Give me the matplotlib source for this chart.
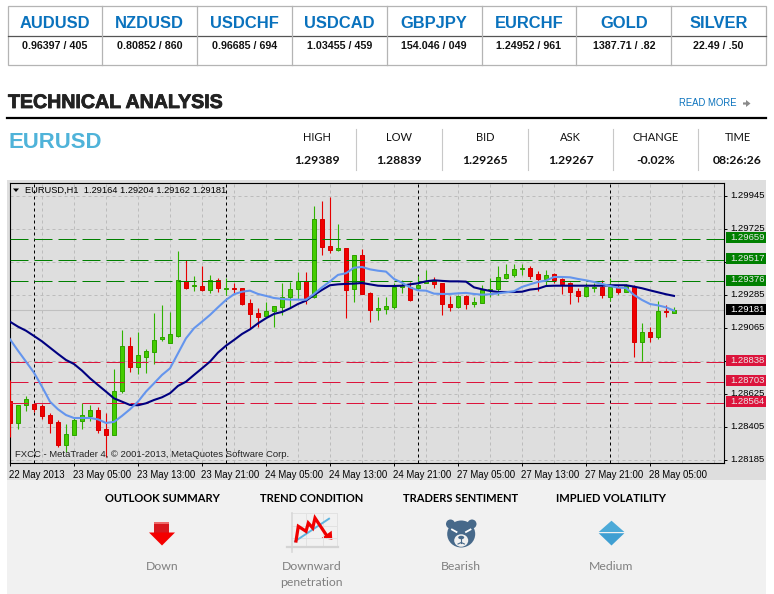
import matplotlib
matplotlib.use('Agg')
import matplotlib.pyplot as plt
import matplotlib.patheffects as pe
from matplotlib.patches import Rectangle, Polygon, Ellipse, Circle
from matplotlib.transforms import ScaledTranslation

# quote table at the top
pairs = ['AUDUSD', 'NZDUSD', 'USDCHF', 'USDCAD', 'GBPJPY', 'EURCHF', 'GOLD', 'SILVER']
quotes = ['0.96397 / 405', '0.80852 / 860', '0.96685 / 694', '1.03455 / 459',
          '154.046 / 049', '1.24952 / 961', '1387.71 / .82', '22.49 / .50']

# EURUSD summary row
stat_names = ['HIGH', 'LOW', 'BID', 'ASK', 'CHANGE', 'TIME']
stat_values = ['1.29389', '1.28839', '1.29265', '1.29267', '-0.02%', '08:26:26']

# hourly candles
opens = [1.28577, 1.28428, 1.28548, 1.28554, 1.28541, 1.28481, 1.28434, 1.28285, 1.28352, 1.28445,
         1.28479, 1.28514, 1.28388, 1.28352, 1.28645, 1.28941, 1.28805, 1.28872, 1.28905, 1.28988,
         1.28965, 1.29010, 1.29374, 1.29341, 1.29341, 1.29319, 1.29381, 1.29326, 1.29328, 1.29328,
         1.29228, 1.29161, 1.29141, 1.29174, 1.29205, 1.29268, 1.29321, 1.29374, 1.29268, 1.29788,
         1.29608, 1.29585, 1.29594, 1.29321, 1.29548, 1.29294, 1.29185, 1.29192, 1.29205, 1.29334,
         1.29334, 1.29332, 1.29361, 1.29374, 1.29361, 1.29221, 1.29205, 1.29274, 1.29221, 1.29232,
         1.29314, 1.29321, 1.29397, 1.29419, 1.29454, 1.29461, 1.29421, 1.29390, 1.29421, 1.29388,
         1.29361, 1.29308, 1.29279, 1.29332, 1.29334, 1.29272, 1.29334, 1.29305, 1.29334, 1.28972,
         1.29034, 1.29005, 1.29174, 1.29164]
highs = [1.28717, 1.28550, 1.28610, 1.28560, 1.28557, 1.28494, 1.28450, 1.28423, 1.28461, 1.28565,
         1.28550, 1.28534, 1.28494, 1.28788, 1.29050, 1.29005, 1.29034, 1.28921, 1.29161, 1.29214,
         1.29168, 1.29577, 1.29517, 1.29408, 1.29477, 1.29417, 1.29394, 1.29394, 1.29361, 1.29328,
         1.29254, 1.29194, 1.29234, 1.29208, 1.29363, 1.29372, 1.29434, 1.29434, 1.29877, 1.29908,
         1.29934, 1.29757, 1.29594, 1.29548, 1.29590, 1.29301, 1.29268, 1.29268, 1.29361, 1.29383,
         1.29368, 1.29410, 1.29450, 1.29401, 1.29361, 1.29277, 1.29283, 1.29283, 1.29268, 1.29350,
         1.29394, 1.29477, 1.29490, 1.29490, 1.29490, 1.29477, 1.29443, 1.29450, 1.29428, 1.29394,
         1.29368, 1.29328, 1.29361, 1.29365, 1.29383, 1.29394, 1.29350, 1.29354, 1.29350, 1.29094,
         1.29072, 1.29241, 1.29217, 1.29204]
lows = [1.28334, 1.28388, 1.28512, 1.28505, 1.28459, 1.28365, 1.28272, 1.28239, 1.28352, 1.28392,
        1.28445, 1.28365, 1.28205, 1.28352, 1.28628, 1.28772, 1.28757, 1.28765, 1.28823, 1.28974,
        1.28965, 1.29005, 1.29325, 1.29312, 1.29312, 1.29299, 1.29305, 1.29283, 1.29299, 1.29217,
        1.29061, 1.29072, 1.29128, 1.29072, 1.29152, 1.29194, 1.29254, 1.29223, 1.29261, 1.29550,
        1.29565, 1.29577, 1.29132, 1.29239, 1.29292, 1.29105, 1.29117, 1.29157, 1.29190, 1.29299,
        1.29245, 1.29317, 1.29361, 1.29328, 1.29150, 1.29177, 1.29194, 1.29190, 1.29205, 1.29228,
        1.29272, 1.29283, 1.29388, 1.29405, 1.29417, 1.29390, 1.29312, 1.29343, 1.29365, 1.29290,
        1.29223, 1.29239, 1.29268, 1.29305, 1.29265, 1.29245, 1.29290, 1.29305, 1.28872, 1.28843,
        1.28970, 1.28992, 1.29139, 1.29162]
closes = [1.28428, 1.28550, 1.28588, 1.28525, 1.28479, 1.28432, 1.28285, 1.28354, 1.28448, 1.28481,
          1.28514, 1.28385, 1.28352, 1.28641, 1.28941, 1.28805, 1.28881, 1.28908, 1.28981, 1.29001,
          1.29021, 1.29381, 1.29332, 1.29348, 1.29319, 1.29381, 1.29332, 1.29328, 1.29326, 1.29223,
          1.29159, 1.29137, 1.29174, 1.29208, 1.29268, 1.29321, 1.29374, 1.29254, 1.29788, 1.29605,
          1.29585, 1.29594, 1.29319, 1.29548, 1.29292, 1.29185, 1.29194, 1.29208, 1.29334, 1.29348,
          1.29252, 1.29352, 1.29374, 1.29359, 1.29225, 1.29205, 1.29274, 1.29221, 1.29234, 1.29314,
          1.29321, 1.29401, 1.29421, 1.29454, 1.29461, 1.29408, 1.29390, 1.29414, 1.29381, 1.29359,
          1.29305, 1.29279, 1.29334, 1.29339, 1.29283, 1.29334, 1.29305, 1.29341, 1.28972, 1.29034,
          1.29005, 1.29174, 1.29168, 1.29181]

# moving averages
ma_slow = [1.29105, 1.29072, 1.29045, 1.29010, 1.28974, 1.28932, 1.28890, 1.28850, 1.28823, 1.28779,
           1.28728, 1.28683, 1.28639, 1.28594, 1.28572, 1.28550, 1.28548, 1.28561, 1.28583, 1.28601,
           1.28628, 1.28677, 1.28705, 1.28750, 1.28794, 1.28839, 1.28899, 1.28945, 1.28983, 1.29023,
           1.29054, 1.29094, 1.29128, 1.29157, 1.29170, 1.29194, 1.29223, 1.29245, 1.29283, 1.29317,
           1.29348, 1.29354, 1.29357, 1.29359, 1.29363, 1.29354, 1.29345, 1.29343, 1.29343, 1.29345,
           1.29354, 1.29361, 1.29374, 1.29381, 1.29377, 1.29374, 1.29374, 1.29372, 1.29334, 1.29321,
           1.29310, 1.29303, 1.29303, 1.29303, 1.29305, 1.29319, 1.29325, 1.29343, 1.29345, 1.29345,
           1.29345, 1.29345, 1.29345, 1.29345, 1.29345, 1.29348, 1.29348, 1.29348, 1.29339, 1.29328,
           1.29314, 1.29301, 1.29288, 1.29277]
ma_fast = [1.28988, 1.28912, 1.28839, 1.28765, 1.28672, 1.28572, 1.28521, 1.28483, 1.28463, 1.28463,
           1.28463, 1.28454, 1.28430, 1.28437, 1.28477, 1.28521, 1.28572, 1.28639, 1.28694, 1.28750,
           1.28794, 1.28894, 1.28994, 1.29061, 1.29105, 1.29150, 1.29201, 1.29250, 1.29288, 1.29305,
           1.29312, 1.29290, 1.29277, 1.29263, 1.29257, 1.29252, 1.29252, 1.29252, 1.29290, 1.29334,
           1.29374, 1.29417, 1.29428, 1.29465, 1.29470, 1.29454, 1.29445, 1.29439, 1.29390, 1.29365,
           1.29334, 1.29314, 1.29312, 1.29292, 1.29290, 1.29290, 1.29294, 1.29297, 1.29290, 1.29285,
           1.29288, 1.29294, 1.29301, 1.29308, 1.29337, 1.29354, 1.29370, 1.29379, 1.29403, 1.29403,
           1.29401, 1.29390, 1.29381, 1.29370, 1.29357, 1.29343, 1.29332, 1.29330, 1.29283, 1.29250,
           1.29223, 1.29214, 1.29201, 1.29179]

# pivot levels and price axis labels
green_levels = [1.29659, 1.29517, 1.29376]
red_levels = [1.28838, 1.28703, 1.28564]
last_price = 1.29181
price_ticks = [1.29945, 1.29725, 1.29505, 1.29285, 1.29065, 1.28845, 1.28625, 1.28405, 1.28185]
shown_ticks = ['1.29945', '1.29725', '', '1.29285', '1.29065', '', '1.28625', '1.28405', '1.28185']
time_labels = ['22 May 2013', '23 May 05:00', '23 May 13:00', '23 May 21:00', '24 May 05:00', '24 May 13:00',
               '24 May 21:00', '27 May 05:00', '27 May 13:00', '27 May 21:00', '28 May 05:00']

# bottom panel
panel_titles = ['OUTLOOK SUMMARY', 'TREND CONDITION', 'TRADERS SENTIMENT', 'IMPLIED VOLATILITY']
panel_texts = ['Down', 'Downward\npenetration', 'Bearish', 'Medium']

BLUE = '#0a72bd'
UI_FONT = 'Lato'
fig = plt.figure(figsize=(7.74, 5.94), dpi=100, facecolor='white')

# page in pixel coordinates
page = fig.add_axes([0, 0, 1, 1])
page.set_xlim(0, 774)
page.set_ylim(594, 0)
page.axis('off')

# table
page.add_patch(Rectangle((7.5, 6), 758.5, 58.5, fc='white', ec='#b4b4b4', lw=0.9))
page.plot([7.5, 766], [36, 36], color='#555555', lw=0.9)
col_w = (766 - 7.5) / 8
for n in range(8):
    cx = 7.5 + col_w * (n + 0.5)
    if n > 0:
        page.plot([7.5 + col_w * n] * 2, [6, 64.5], color='#b4b4b4', lw=0.9)
    page.text(cx, 23, pairs[n], color=BLUE, fontsize=11.9, fontweight='bold', family='Liberation Sans',
              ha='center', va='center')
    page.text(cx, 46, quotes[n], color='#111111', fontsize=7.7, fontweight='bold', family='Liberation Sans',
              ha='center', va='center')

# heading
page.text(8, 102.5, 'TECHNICAL ANALYSIS', color='#222222', fontsize=14.1, fontweight='bold',
          family='Liberation Sans', ha='left', va='center',
          path_effects=[pe.withStroke(linewidth=0.6, foreground='#222222')])
page.text(679, 103.5, 'READ MORE', color=BLUE, fontsize=6.85, family='Liberation Sans', ha='left', va='center')
page.add_patch(Polygon([[743, 102.4], [746, 102.4], [746, 100], [750.5, 103.5], [746, 107], [746, 104.6], [743, 104.6]],
                       fc='#8a8a8a', ec='none'))
page.plot([7, 766], [117.7, 117.7], color='black', lw=1.6)
page.text(8, 143, 'EURUSD', color='#4fb3d9', fontsize=15.9, fontweight='bold', family='Liberation Sans',
          ha='left', va='center')

# stats
stat_x = [317, 399, 485, 570.5, 655.5, 737.5]
for cx, name, val in zip(stat_x, stat_names, stat_values):
    page.text(cx, 137.5, name, color='#111111', fontsize=8, family=UI_FONT, ha='center', va='center')
    page.text(cx, 160.5, val, color='#111111', fontsize=8.8, fontweight='bold', family=UI_FONT,
              ha='center', va='center')
for x in [356.4, 442.3, 527.6, 612.5, 698.4]:
    page.plot([x, x], [129, 170], color='#c8c8c8', lw=0.8)

# chart frame and lower panel
page.add_patch(Rectangle((7, 180), 759, 300, fc='#dedede', ec='none'))
page.add_patch(Rectangle((7, 480), 759, 114, fc='#f1f1f1', ec='none'))

title_x = [162, 311.7, 461, 611]
for cx, title, txt in zip(title_x, panel_titles, panel_texts):
    page.text(cx, 498.5, title, color='black', fontsize=8, fontweight='bold', family=UI_FONT,
              ha='center', va='center')
    page.text(cx, 566, txt.split('\n')[0], color='#808080', fontsize=8.8, family=UI_FONT, ha='center', va='center')
    if '\n' in txt:
        page.text(cx, 582, txt.split('\n')[1], color='#808080', fontsize=8.8, family=UI_FONT,
                  ha='center', va='center')

# outlook arrow
page.add_patch(Rectangle((154, 521.5), 15, 11.5, fc='#d7181e', ec='none'))
page.add_patch(Rectangle((154, 521.5), 15, 2, fc='#ee6a6a', ec='none'))
page.add_patch(Polygon([[149, 532.5], [175, 532.5], [162, 545.5]], fc='#f40000', ec='none'))

# trend icon
for x in [306, 323, 337]:
    page.plot([x, x], [513, 547], color='#e2e2e2', lw=0.7)
for y in [513, 526, 538]:
    page.plot([291, 337], [y, y], color='#e2e2e2', lw=0.7)
page.plot([291.7, 291.7], [513, 551.5], color='#d8d8d8', lw=1.2)
page.plot([287, 338], [547.3, 547.3], color='#d4d4d4', lw=1.6)
page.plot([295, 329], [541.3, 518.7], color='#5fb5e0', lw=1.4)
page.plot([296, 298.3, 306, 308.3, 312.7, 315, 327], [541, 526.3, 531.3, 523, 528, 518, 536],
          color='#f00000', lw=2.3, solid_joinstyle='miter')
page.add_patch(Polygon([[321.7, 538], [331.7, 530.7], [332.3, 539.7]], fc='#f00000', ec='none'))

# bear icon
bear = '#47698a'
page.add_patch(Circle((450.5, 524), 4.5, fc=bear, ec='none'))
page.add_patch(Circle((472, 524), 4.5, fc=bear, ec='none'))
page.add_patch(Ellipse((461.2, 534), 28, 27, fc=bear, ec='none'))
page.add_patch(Ellipse((461.2, 540.5), 14, 12.5, fc='#f1f1f1', ec='none'))
page.add_patch(Ellipse((461.2, 537.5), 6, 3.5, fc=bear, ec='none'))
page.plot([461.2, 461.2], [538, 542.5], color=bear, lw=0.8)
page.plot([458, 461.2, 464.4], [544, 542.5, 544], color=bear, lw=0.8)
page.plot([452, 456.5], [529.5, 532], color='white', lw=1.3)
page.plot([470.5, 466], [529.5, 532], color='white', lw=1.3)

# volatility diamond
page.add_patch(Polygon([[598.7, 532], [624.4, 532], [611.5, 520.7]], fc='#4caad8', ec='none'))
page.add_patch(Polygon([[598.7, 533.2], [624.4, 533.2], [611.5, 545.5]], fc='#3f9fd2', ec='none'))

# chart axes
ax = fig.add_axes([9.5 / 774, (594 - 463) / 594, 714.5 / 774, 280.5 / 594], facecolor='#dedede')
ax.set_xlim(-0.06, 89.25)
ax.set_ylim(1.28163, 1.30033)

grid_kw = dict(color='#bcbcbc', lw=0.72, ls=(0, (3, 3)), zorder=1)
for i in range(0, 90, 4):
    ax.axvline(i, **grid_kw)
for p in price_ticks:
    ax.axhline(p, **grid_kw)
for i in range(3, 90, 24):
    ax.axvline(i, color='black', lw=0.72, ls=(0, (3, 3)), zorder=2)
ax.axhline(last_price, color='#c0c0c0', lw=0.8, zorder=1.5)

# candles
for i in range(len(opens)):
    up = closes[i] >= opens[i]
    wick = '#2fb300' if up else '#e60000'
    face = '#44cc00' if up else '#f00000'
    edge = '#2fa300' if up else '#d80000'
    ax.plot([i, i], [lows[i], highs[i]], color=wick, lw=0.8, zorder=3, solid_capstyle='butt')
    ax.bar(i, abs(closes[i] - opens[i]), bottom=min(opens[i], closes[i]), width=0.62,
           facecolor=face, edgecolor=edge, lw=0.72, zorder=4)

# pivots go over the candles
for p in green_levels:
    ax.axhline(p, color='#008000', lw=0.72, ls=(0, (18, 6)), zorder=5)
for p in red_levels:
    ax.axhline(p, color='#dc143c', lw=0.72, ls=(0, (18, 6)), zorder=5)

ax.plot(range(len(ma_slow)), ma_slow, color='#000080', lw=1.5, zorder=6)
ax.plot(range(len(ma_fast)), ma_fast, color='#6495ed', lw=1.5, zorder=7)

# axes furniture
ax.yaxis.tick_right()
ax.set_yticks(price_ticks)
ax.set_yticklabels(shown_ticks, family='Liberation Sans', fontsize=6.8)
ax.tick_params(axis='y', length=2.2, width=0.7, pad=2)
up_1px = ScaledTranslation(0, 1 / 100, fig.dpi_scale_trans)
for lab in ax.get_yticklabels():
    lab.set_transform(lab.get_transform() + up_1px)
ax.set_xticks(range(0, 88, 8))
ax.set_xticklabels(time_labels, family='Liberation Sans', fontsize=6.9, ha='left')
ax.tick_params(axis='x', length=2.2, width=0.7, pad=2.5)
left_1px = ScaledTranslation(-1 / 100, 0, fig.dpi_scale_trans)
for lab in ax.get_xticklabels():
    lab.set_transform(lab.get_transform() + left_1px)
for s in ax.spines.values():
    s.set_linewidth(0.8)
    s.set_color('black')

# price boxes on the right
ytrans = ax.get_yaxis_transform()
box_h = 11 / 15000
for levels, color, txt_color in [(green_levels, '#008000', '#e8e8e8'), (red_levels, '#dc143c', '#e8e8e8'),
                                 ([last_price], 'black', 'white')]:
    for p in levels:
        ax.add_patch(Rectangle((1.0028, p - box_h / 2 + 0.00007), 0.056, box_h, transform=ytrans, fc=color,
                               ec='none', clip_on=False, zorder=8))
        ax.text(1.0085, p + 0.00007, '%.5f' % p, transform=ytrans, color=txt_color, fontsize=6.8,
                family='Liberation Sans', ha='left', va='center', clip_on=False, zorder=9)

# chart captions
ax.add_patch(Polygon([[13, 188.5], [19, 188.5], [16, 192]], closed=True, fc='black', ec='none', transform=page.transData,
                     zorder=9))
ax.text(25, 190.5, 'EURUSD,H1  1.29164 1.29204 1.29162 1.29181', transform=page.transData, color='black',
        fontsize=6.7, family='Liberation Sans', ha='left', va='center', zorder=9)
ax.text(14.7, 454.7, 'FXCC - MetaTrader 4, \u00a9 2001-2013, MetaQuotes Software Corp.', transform=page.transData,
        color='#222222', fontsize=6.8, family='Liberation Sans', ha='left', va='center', zorder=9)

plt.savefig('out.png', dpi=100)
